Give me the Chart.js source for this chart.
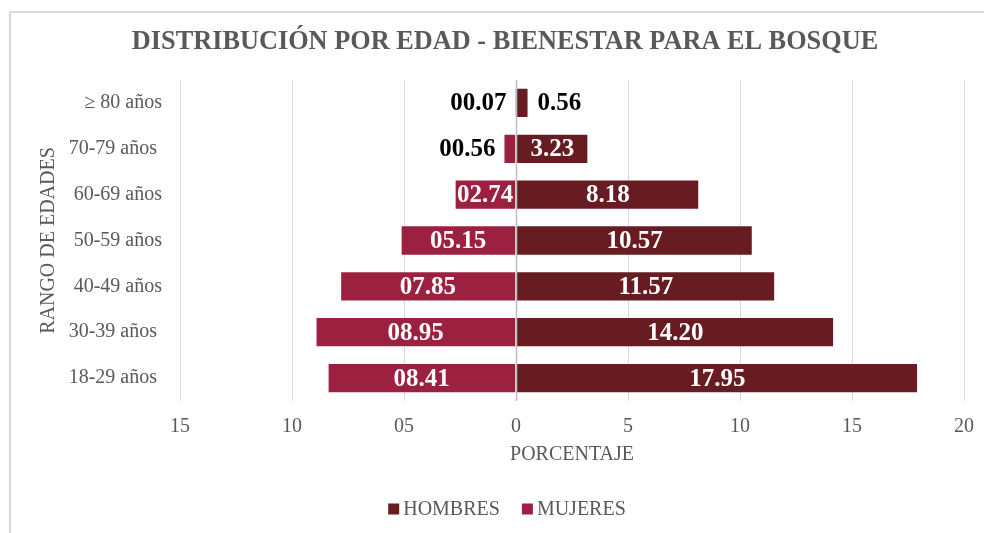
<!DOCTYPE html>
<html>
<head>
<meta charset="utf-8">
<script src="https://cdn.jsdelivr.net/npm/chart.js@4"></script>
<style>
	html, body { margin: 0; padding: 0; background: #fff; overflow: hidden; width: 984px; height: 533px; }
	#frame { position: absolute; left: 9px; top: 11px; width: 1000px; height: 560px; border: 2px solid #d9d9d9; box-sizing: border-box; }
	#chartBox { position: absolute; left: 0; top: 0; width: 984px; height: 533px; }
</style>
</head>
<body>
<div id="frame"></div>
<div id="chartBox"><canvas id="pyramid" width="984" height="533"></canvas></div>
<script>
const chartTitle = 'DISTRIBUCIÓN POR EDAD - BIENESTAR PARA EL BOSQUE';
const ageGroups = ['≥ 80 años', '70-79 años ', '60-69 años', '50-59 años', '40-49 años', '30-39 años ', '18-29 años '];
const hombres = [0.56, 3.23, 8.18, 10.57, 11.57, 14.20, 17.95];
const mujeres = [0.07, 0.56, 2.74, 5.15, 7.85, 8.95, 8.41];
const xTicks = [-15, -10, -5, 0, 5, 10, 15, 20];

const serif = '"Liberation Serif", "Times New Roman", serif';
const grey = '#595959';

// etiquetas de valor dentro / fuera de la barra
const barLabels = {
	id: 'barLabels',
	afterDatasetsDraw(chart) {
		const ctx = chart.ctx;
		ctx.save();
		ctx.font = 'bold 25px ' + serif;
		ctx.textBaseline = 'middle';
		chart.data.datasets.forEach((ds, di) => {
			const meta = chart.getDatasetMeta(di);
			meta.data.forEach((bar, i) => {
				const v = Math.abs(ds.data[i]);
				const txt = di === 1 ? v.toFixed(2).padStart(5, '0') : v.toFixed(2);
				const w = ctx.measureText(txt).width;
				const len = Math.abs(bar.x - bar.base);
				if (w <= len) {
					ctx.fillStyle = '#ffffff';
					ctx.textAlign = 'center';
					ctx.fillText(txt, (bar.x + bar.base) / 2, bar.y + 1);
				} else {
					ctx.fillStyle = '#000000';
					if (ds.data[i] < 0) {
						ctx.textAlign = 'right';
						ctx.fillText(txt, bar.x - 8, bar.y + 1);
					} else {
						ctx.textAlign = 'left';
						ctx.fillText(txt, bar.x + 9, bar.y + 1);
					}
				}
			});
		});
		ctx.restore();
	}
};

// línea del cero por encima de las barras
const zeroLine = {
	id: 'zeroLine',
	afterDatasetsDraw(chart) {
		const {ctx, chartArea, scales: {x}} = chart;
		const px = Math.round(x.getPixelForValue(0)) + 0.5;
		ctx.save();
		ctx.strokeStyle = '#bfbfbf';
		ctx.lineWidth = 1.5;
		ctx.beginPath();
		ctx.moveTo(px, chartArea.top);
		ctx.lineTo(px, chartArea.bottom);
		ctx.stroke();
		ctx.restore();
	}
};

// título y leyenda centrados sobre el marco del gráfico
const frameText = {
	id: 'frameText',
	afterDraw(chart) {
		const ctx = chart.ctx;
		ctx.save();
		ctx.fillStyle = grey;
		ctx.textBaseline = 'middle';
		ctx.textAlign = 'center';
		ctx.font = 'bold 26.3px ' + serif;
		ctx.fillText(chartTitle, 505, 42);

		ctx.font = '20px ' + serif;
		ctx.textAlign = 'left';
		const items = chart.data.datasets.map(ds => ({text: ds.label, color: ds.backgroundColor, w: ctx.measureText(ds.label).width}));
		const box = 11, gap = 4, spacing = 22;
		const total = items.reduce((s, it) => s + box + gap + it.w, 0) + spacing * (items.length - 1);
		let x = 507 - total / 2;
		const y = 509;
		items.forEach(it => {
			ctx.fillStyle = it.color;
			ctx.fillRect(x, y - box / 2, box, box);
			ctx.fillStyle = grey;
			ctx.fillText(it.text, x + box + gap, y + 1);
			x += box + gap + it.w + spacing;
		});
		ctx.restore();
	}
};

new Chart(document.getElementById('pyramid'), {
	type: 'bar',
	data: {
		labels: ageGroups,
		datasets: [
			{
				label: 'HOMBRES',
				data: hombres,
				backgroundColor: '#661c21',
				borderColor: 'rgba(255,255,255,0.3)',
				borderWidth: 1,
				barPercentage: 0.66,
				categoryPercentage: 1
			},
			{
				label: 'MUJERES',
				data: mujeres.map(v => -v),
				backgroundColor: '#9c2140',
				borderColor: 'rgba(255,255,255,0.3)',
				borderWidth: 1,
				barPercentage: 0.66,
				categoryPercentage: 1
			}
		]
	},
	options: {
		indexAxis: 'y',
		responsive: false,
		animation: false,
		layout: {padding: {left: 0, right: 20, top: 80, bottom: 55}},
		scales: {
			x: {
				stacked: true,
				min: -15,
				max: 20,
				afterBuildTicks: s => { s.ticks = xTicks.map(v => ({value: v})); },
				afterFit: s => { s.height = 77; s.paddingLeft = 0; s.paddingRight = 0; },
				grid: {color: '#d9d9d9', drawTicks: false},
				border: {display: false},
				ticks: {
					color: grey,
					font: {family: serif, size: 20},
					padding: 14,
					callback: v => v < 0 ? String(Math.abs(v)).padStart(2, '0') : String(v)
				},
				title: {
					display: true,
					text: 'PORCENTAJE',
					color: grey,
					font: {family: serif, size: 20},
					padding: {top: 0, bottom: 11}
				}
			},
			y: {
				stacked: true,
				afterFit: s => { s.width = 180; },
				grid: {display: false, drawTicks: false},
				border: {display: false},
				ticks: {color: grey, font: {family: serif, size: 20}, padding: 18},
				title: {
					display: true,
					text: 'RANGO DE EDADES',
					color: grey,
					font: {family: serif, size: 20},
					padding: {top: 37, bottom: 0}
				}
			}
		},
		plugins: {
			title: {display: false},
			legend: {display: false},
			tooltip: {enabled: false}
		}
	},
	plugins: [zeroLine, barLabels, frameText]
});
</script>
</body>
</html>
